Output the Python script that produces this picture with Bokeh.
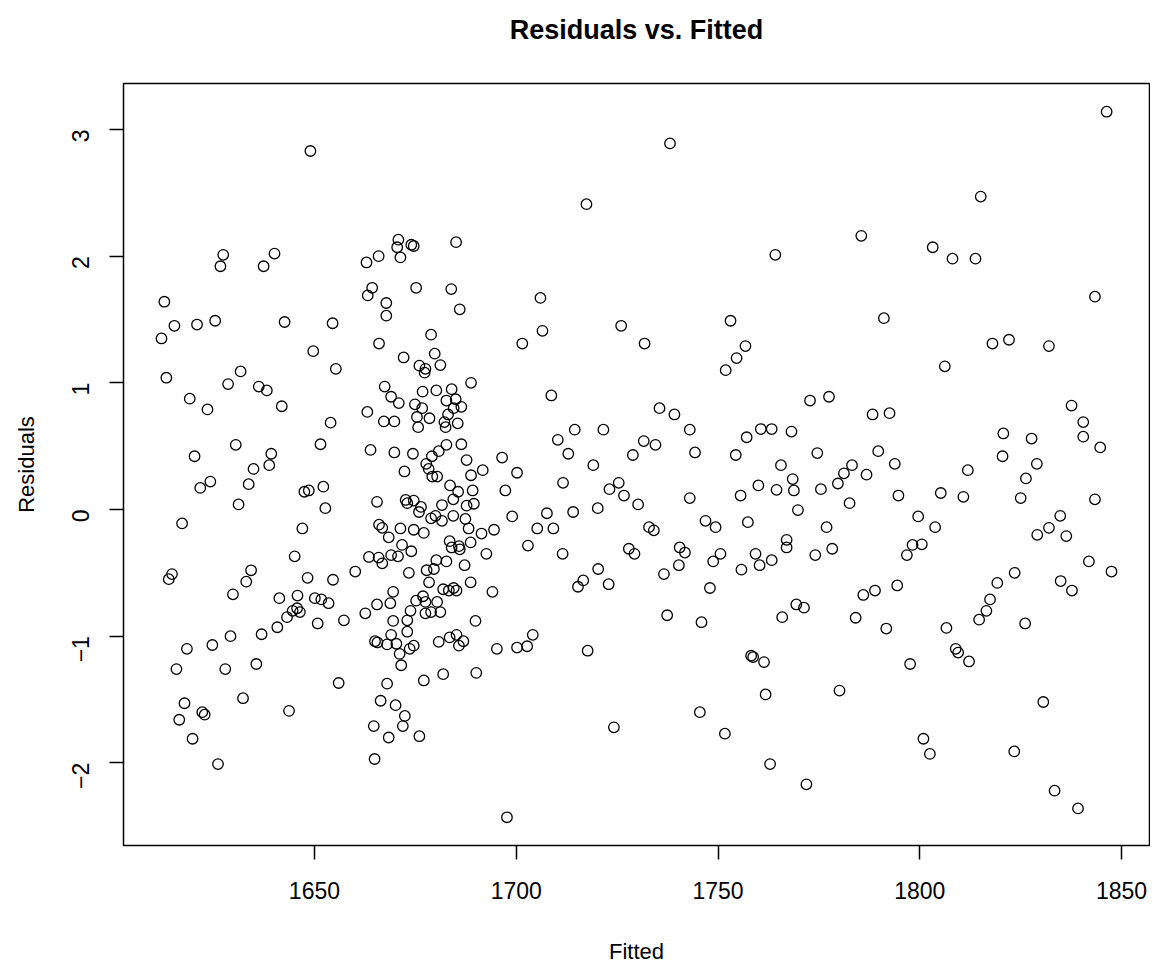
import math
from bokeh.plotting import figure
from bokeh.models import Range1d, FixedTicker, Title
from bokeh.embed import file_html
from bokeh.resources import INLINE

fitted = [
    1649.0, 1627.4, 1626.7, 1640.1, 1637.4, 1662.9, 1665.9, 1664.3, 1663.2, 1612.8,
    1615.3, 1620.9, 1625.4, 1642.6, 1654.5, 1612.1, 1649.7, 1666.0,
    1717.4, 1670.8, 1670.5, 1674.0, 1674.6, 1671.3, 1685.1, 1675.2, 1683.9, 1667.8,
    1667.8, 1686.0, 1706.0, 1706.5, 1726.0, 1678.9, 1701.5,
    1738.1, 1785.5, 1764.2, 1753.1, 1791.1, 1731.8, 1756.8,
    1846.3, 1815.1, 1803.2, 1808.1, 1813.8, 1843.4, 1818.0, 1822.1, 1832.0,
    1613.3, 1631.7, 1628.6, 1636.2, 1638.2, 1655.3, 1619.1, 1623.5, 1641.9, 1663.1,
    1654.0, 1630.5, 1651.5, 1663.9, 1620.3, 1639.3, 1638.8, 1634.9, 1624.2, 1621.7,
    1633.7, 1652.2, 1647.5, 1648.6, 1652.7, 1631.2, 1665.5, 1617.2, 1647.0, 1666.0,
    1666.8, 1645.1, 1663.5, 1665.9, 1666.8, 1614.7, 1613.9, 1634.3, 1633.1, 1660.1,
    1648.3, 1654.6, 1629.8, 1641.3, 1645.8, 1650.1, 1651.7, 1653.5, 1665.5,
    1662.6, 1657.3, 1650.8, 1644.6, 1646.4, 1643.2, 1640.8, 1645.7, 1636.9, 1629.2,
    1624.7, 1618.4, 1615.8, 1627.9, 1635.6, 1656.0, 1665.0, 1665.6, 1632.3, 1617.8,
    1622.2, 1622.8, 1616.5, 1643.7, 1619.8, 1626.1, 1666.4, 1664.7, 1664.9,
    1672.1, 1679.8, 1676.0, 1677.5, 1677.3, 1681.2, 1688.8, 1708.7, 1667.4, 1669.0,
    1670.9, 1676.8, 1680.2, 1684.0, 1674.9, 1676.7, 1682.7, 1685.0, 1684.5, 1686.4,
    1683.1, 1667.2, 1669.8, 1675.4, 1678.5, 1682.2, 1682.5, 1685.5, 1675.7, 1714.5,
    1721.6, 1710.3, 1712.9, 1719.1, 1728.9, 1669.8, 1674.4, 1682.7, 1686.4, 1680.8,
    1679.1, 1677.7, 1678.3, 1687.7, 1696.5, 1672.3, 1679.2, 1680.4, 1688.8, 1691.7,
    1700.2, 1711.6, 1683.6, 1685.6, 1689.2, 1697.3, 1723.1, 1725.4, 1726.7, 1730.2,
    1672.6, 1673.0, 1674.6, 1676.4, 1681.6, 1684.4, 1687.7, 1689.5, 1675.9, 1678.9,
    1680.0, 1684.4, 1681.6, 1687.4, 1699.0, 1707.6, 1714.1, 1720.2, 1671.3, 1674.6,
    1677.1, 1688.2, 1691.4, 1694.5, 1705.2, 1709.2, 1668.4, 1671.7, 1683.5, 1688.7,
    1684.0, 1685.8, 1686.0, 1702.9, 1711.5, 1727.9, 1729.3, 1674.0, 1669.0, 1670.7,
    1692.6, 1680.2, 1682.7, 1687.2, 1677.8, 1679.6, 1720.3, 1673.4, 1678.4, 1688.7,
    1694.1, 1716.6, 1715.3, 1722.9, 1669.5, 1681.9, 1683.3, 1684.5, 1685.2, 1668.8,
    1675.2, 1676.9, 1677.5, 1680.4,
    1673.8, 1677.5, 1678.9, 1681.2, 1669.5, 1673.0, 1689.9, 1673.0, 1669.0, 1668.0,
    1670.3, 1671.1, 1673.6, 1674.6, 1680.8, 1683.5, 1685.2, 1686.9, 1685.8, 1695.2,
    1700.2, 1702.7, 1704.1, 1717.7, 1671.5, 1681.9, 1677.1, 1690.1, 1668.0, 1670.1,
    1672.4, 1671.9, 1668.4, 1676.0, 1724.2, 1697.7,
    1754.6, 1751.9, 1735.5, 1739.2, 1772.8, 1777.5, 1788.3, 1792.5, 1743.0, 1731.6,
    1734.5, 1744.3, 1757.1, 1760.6, 1763.3, 1768.2, 1754.4, 1774.6, 1789.7, 1765.6,
    1783.2, 1793.8, 1781.2, 1779.7, 1786.8, 1768.5, 1768.8, 1760.0, 1764.5, 1775.5,
    1755.6, 1743.0, 1782.6, 1794.7, 1769.8, 1757.4, 1746.9, 1749.4, 1732.9, 1734.1,
    1776.9, 1740.5, 1741.8, 1767.0, 1767.0, 1778.3, 1750.6, 1759.3, 1748.8, 1763.3,
    1760.3, 1774.1, 1740.3, 1736.6, 1755.8, 1748.0, 1769.4, 1771.3, 1786.0, 1788.9,
    1794.4,
    1737.4, 1745.9, 1765.9, 1784.1, 1791.7, 1758.2, 1758.7, 1761.4, 1761.8, 1780.1,
    1745.5, 1751.7, 1762.9, 1771.9,
    1806.2, 1837.6, 1840.5, 1840.5, 1844.7, 1820.7, 1827.7, 1820.5, 1829.0, 1811.9,
    1826.3, 1825.0, 1843.4, 1805.2, 1810.8, 1799.6, 1803.8, 1834.8, 1832.0, 1829.1,
    1836.3, 1798.2, 1800.5, 1796.8, 1841.9, 1847.5, 1823.5, 1819.2, 1834.9, 1837.7,
    1817.4,
    1816.5, 1814.7, 1826.1, 1806.6, 1808.9, 1809.5, 1812.2, 1797.6, 1830.6, 1800.9,
    1802.5, 1823.4, 1833.4, 1839.2,
]

residuals = [
    2.83, 2.01, 1.92, 2.02, 1.92, 1.95, 2.00, 1.75, 1.69, 1.64,
    1.45, 1.46, 1.49, 1.48, 1.47, 1.35, 1.25, 1.31,
    2.41, 2.13, 2.07, 2.09, 2.08, 1.99, 2.11, 1.75, 1.74, 1.63,
    1.53, 1.58, 1.67, 1.41, 1.45, 1.38, 1.31,
    2.89, 2.16, 2.01, 1.49, 1.51, 1.31, 1.29,
    3.14, 2.47, 2.07, 1.98, 1.98, 1.68, 1.31, 1.34, 1.29,
    1.04, 1.09, 0.99, 0.97, 0.94, 1.11, 0.875, 0.79, 0.815, 0.77,
    0.685, 0.51, 0.515, 0.47, 0.42, 0.44, 0.35, 0.32, 0.22, 0.17,
    0.20, 0.18, 0.14, 0.15, 0.01, 0.04, 0.06, -0.11, -0.15, -0.12,
    -0.145, -0.37, -0.375, -0.38, -0.425, -0.51, -0.55, -0.48, -0.57, -0.49,
    -0.54, -0.555, -0.67, -0.70, -0.68, -0.70, -0.71, -0.74, -0.75,
    -0.82, -0.875, -0.90, -0.80, -0.81, -0.85, -0.93, -0.78, -0.985, -1.00,
    -1.07, -1.10, -1.26, -1.26, -1.22, -1.37, -1.04, -1.05, -1.49, -1.53,
    -1.60, -1.62, -1.66, -1.59, -1.81, -2.01, -1.51, -1.71, -1.97,
    1.20, 1.23, 1.135, 1.11, 1.08, 1.14, 1.00, 0.90, 0.97, 0.89,
    0.84, 0.93, 0.94, 0.95, 0.83, 0.80, 0.86, 0.87, 0.80, 0.81,
    0.75, 0.695, 0.695, 0.73, 0.72, 0.69, 0.65, 0.68, 0.65, 0.63,
    0.63, 0.55, 0.44, 0.35, 0.43, 0.45, 0.44, 0.51, 0.515, 0.46,
    0.42, 0.36, 0.32, 0.39, 0.41, 0.30, 0.26, 0.26, 0.27, 0.31,
    0.29, 0.21, 0.19, 0.14, 0.15, 0.15, 0.16, 0.21, 0.11, 0.04,
    0.075, 0.05, 0.07, 0.02, 0.035, 0.08, 0.03, 0.045, -0.02, -0.07,
    -0.05, -0.05, -0.09, -0.075, -0.055, -0.03, -0.02, 0.01, -0.15, -0.16,
    -0.185, -0.15, -0.19, -0.16, -0.15, -0.15, -0.22, -0.28, -0.25, -0.26,
    -0.30, -0.29, -0.315, -0.285, -0.35, -0.31, -0.35, -0.33, -0.36, -0.37,
    -0.35, -0.40, -0.41, -0.44, -0.48, -0.47, -0.47, -0.50, -0.575, -0.575,
    -0.65, -0.56, -0.61, -0.59, -0.65, -0.63, -0.64, -0.62, -0.64, -0.74,
    -0.72, -0.685, -0.73, -0.73,
    -0.80, -0.82, -0.81, -0.81, -0.88, -0.875, -0.88, -0.965, -0.99, -1.065,
    -1.06, -1.14, -1.10, -1.075, -1.045, -1.01, -0.99, -1.04, -1.075, -1.10,
    -1.09, -1.08, -0.99, -1.115, -1.23, -1.30, -1.35, -1.29, -1.375, -1.545,
    -1.63, -1.71, -1.80, -1.79, -1.72, -2.43,
    1.195, 1.10, 0.80, 0.75, 0.86, 0.89, 0.75, 0.76, 0.63, 0.54,
    0.51, 0.45, 0.57, 0.635, 0.635, 0.615, 0.43, 0.445, 0.46, 0.35,
    0.35, 0.36, 0.285, 0.205, 0.275, 0.24, 0.15, 0.19, 0.155, 0.16,
    0.11, 0.09, 0.05, 0.11, -0.005, -0.10, -0.09, -0.14, -0.14, -0.165,
    -0.14, -0.30, -0.34, -0.24, -0.30, -0.31, -0.35, -0.35, -0.41, -0.40,
    -0.44, -0.36, -0.44, -0.51, -0.475, -0.62, -0.75, -0.775, -0.675, -0.64,
    -0.60,
    -0.835, -0.89, -0.85, -0.855, -0.94, -1.155, -1.165, -1.205, -1.46, -1.43,
    -1.60, -1.77, -2.01, -2.17,
    1.13, 0.82, 0.69, 0.575, 0.49, 0.60, 0.56, 0.42, 0.36, 0.31,
    0.245, 0.09, 0.08, 0.13, 0.10, -0.055, -0.14, -0.05, -0.145, -0.20,
    -0.21, -0.28, -0.275, -0.36, -0.41, -0.49, -0.50, -0.58, -0.565, -0.64,
    -0.71,
    -0.80, -0.87, -0.90, -0.935, -1.10, -1.13, -1.20, -1.22, -1.52, -1.81,
    -1.93, -1.91, -2.22, -2.36,
]

x_ticks = [1650, 1700, 1750, 1800, 1850]
y_ticks = [-2, -1, 0, 1, 2, 3]
title_text = "Residuals vs. Fitted"

FONT = "Liberation Sans"

# R-style axis limits: data range extended by 4% each side
xmin, xmax = min(fitted), max(fitted)
ymin, ymax = min(residuals), max(residuals)
dx = (xmax - xmin) * 0.04
dy = (ymax - ymin) * 0.04

p = figure(width=1150, height=966, output_backend="svg", toolbar_location=None,
           x_range=Range1d(xmin - dx, xmax + dx), y_range=Range1d(ymin - dy, ymax + dy),
           min_border_left=123, min_border_right=1, min_border_top=83, min_border_bottom=113)

p.background_fill_color = "white"
p.border_fill_color = "white"
p.outline_line_color = "black"
p.outline_line_width = 1.5
p.grid.visible = False

# spacer between frame and title, then the title itself (outermost)
p.add_layout(Title(text=" ", text_font_size="1px", standoff=36), "above")
p.add_layout(Title(text=title_text, align="center", text_font=FONT, text_font_size="27px",
                   text_font_style="bold", text_color="black", standoff=0), "above")

p.scatter(fitted, residuals, marker="circle", size=10.5, fill_color=None,
          line_color="black", line_width=1.3)

for ax in (p.xaxis[0], p.yaxis[0]):
    ax.axis_line_color = None
    ax.major_tick_in = 0
    ax.major_tick_out = 14
    ax.major_tick_line_color = "black"
    ax.major_tick_line_width = 1.5
    ax.minor_tick_line_color = None
    ax.major_label_text_font = FONT
    ax.major_label_text_font_size = "23px"
    ax.major_label_text_color = "black"
    ax.axis_label_text_font = FONT
    ax.axis_label_text_font_size = "22px"
    ax.axis_label_text_font_style = "normal"
    ax.axis_label_text_color = "black"

p.xaxis.ticker = FixedTicker(ticks=x_ticks)
p.yaxis.ticker = FixedTicker(ticks=y_ticks)
p.xaxis.axis_label = "Fitted"
p.yaxis.axis_label = "Residuals"
p.xaxis.major_label_standoff = 22
p.yaxis.major_label_standoff = 29
p.yaxis.major_label_orientation = math.pi / 2
p.xaxis.axis_label_standoff = 37
p.yaxis.axis_label_standoff = 22

open("out.html", "w").write(file_html(p, INLINE))
